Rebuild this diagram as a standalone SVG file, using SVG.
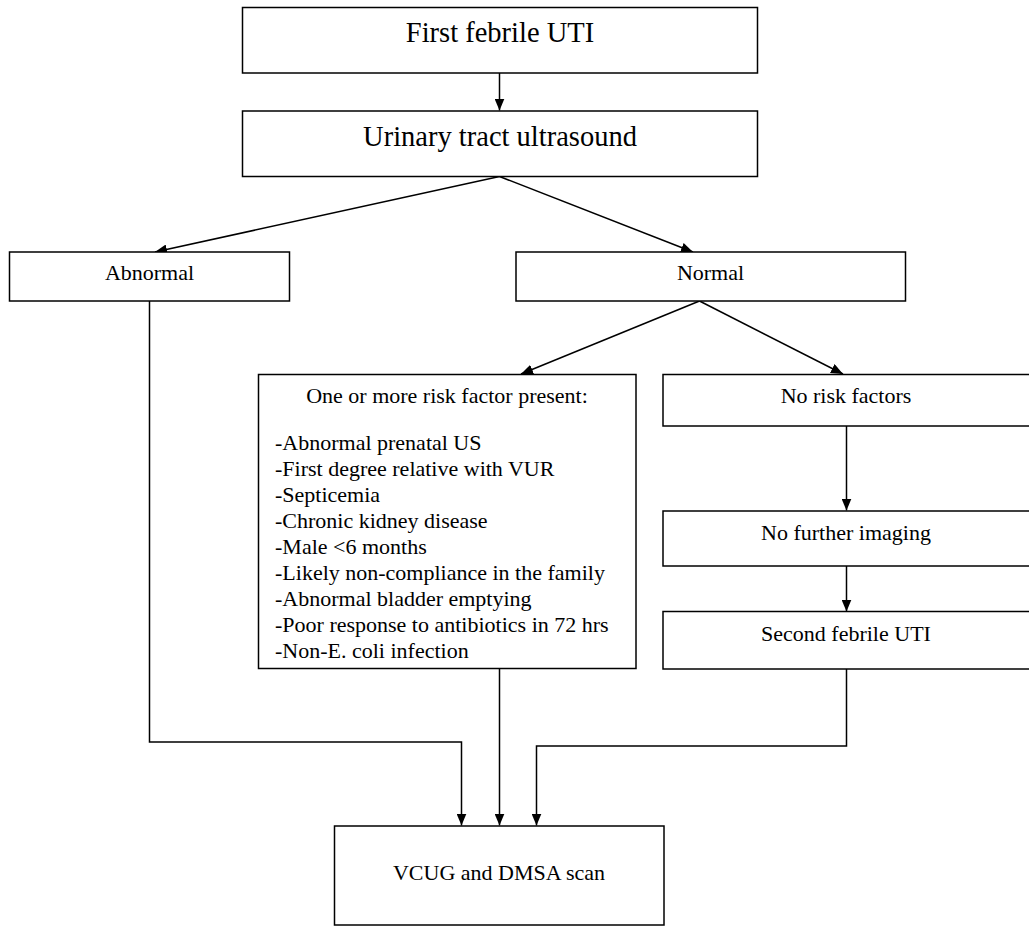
<svg xmlns="http://www.w3.org/2000/svg" width="1029" height="926" viewBox="0 0 1029 926">
<style>
.box{fill:#fff;stroke:#000;stroke-width:1.5}
.t{font-size:22px;fill:#000}
.big{font-size:28.5px}
.c{text-anchor:middle}
.ln{fill:none;stroke:#000;stroke-width:1.5}
</style>
<defs>
<marker id="ah" markerUnits="userSpaceOnUse" markerWidth="12" markerHeight="10" viewBox="0 0 12 10" refX="12" refY="5" orient="auto">
<path d="M0,0 L12,5 L0,10 Z" fill="#000"/>
</marker>
</defs>
<rect width="1029" height="926" fill="#fff"/>
<g id="connectors">
<line class="ln" x1="499.5" y1="73" x2="499.5" y2="110.5" marker-end="url(#ah)"/>
<line class="ln" x1="499.5" y1="176.5" x2="155" y2="252" marker-end="url(#ah)"/>
<line class="ln" x1="499.5" y1="176.5" x2="693" y2="252" marker-end="url(#ah)"/>
<line class="ln" x1="699.5" y1="301" x2="521" y2="374" marker-end="url(#ah)"/>
<line class="ln" x1="699.5" y1="301" x2="843" y2="374" marker-end="url(#ah)"/>
<line class="ln" x1="846.5" y1="426" x2="846.5" y2="510.5" marker-end="url(#ah)"/>
<line class="ln" x1="846.5" y1="566" x2="846.5" y2="611.5" marker-end="url(#ah)"/>
<polyline class="ln" points="149.5,301 149.5,742 461.5,742 461.5,825.5" marker-end="url(#ah)"/>
<line class="ln" x1="499.5" y1="668.5" x2="499.5" y2="825.5" marker-end="url(#ah)"/>
<polyline class="ln" points="846.5,669 846.5,746 536.5,746 536.5,825.5" marker-end="url(#ah)"/>
</g>
<g font-family="'Liberation Serif', 'DejaVu Serif', serif">
<g id="n-first">
<rect class="box" x="242.5" y="7.5" width="515" height="65.5"/>
<text class="t big c" x="500" y="42">First febrile UTI</text>
</g>
<g id="n-us">
<rect class="box" x="242.5" y="111" width="515" height="65.5"/>
<text class="t big c" x="500" y="146">Urinary tract ultrasound</text>
</g>
<g id="n-abnormal">
<rect class="box" x="9.5" y="252" width="280" height="49"/>
<text class="t c" x="149.5" y="280">Abnormal</text>
</g>
<g id="n-normal">
<rect class="box" x="516" y="252" width="389.5" height="49"/>
<text class="t c" x="710.5" y="280">Normal</text>
</g>
<g id="n-risk">
<rect class="box" x="258.5" y="374.5" width="377.5" height="294"/>
<text class="t c" x="447" y="403">One or more risk factor present:</text>
<text class="t" x="275" y="450">-Abnormal prenatal US</text>
<text class="t" x="275" y="476">-First degree relative with VUR</text>
<text class="t" x="275" y="502">-Septicemia</text>
<text class="t" x="275" y="528">-Chronic kidney disease</text>
<text class="t" x="275" y="554">-Male &lt;6 months</text>
<text class="t" x="275" y="580">-Likely non-compliance in the family</text>
<text class="t" x="275" y="606">-Abnormal bladder emptying</text>
<text class="t" x="275" y="632">-Poor response to antibiotics in 72 hrs</text>
<text class="t" x="275" y="658">-Non-E. coli infection</text>
</g>
<g id="n-norisk">
<rect class="box" x="663" y="374.5" width="370" height="51.5"/>
<text class="t c" x="846" y="403">No risk factors</text>
</g>
<g id="n-nofurther">
<rect class="box" x="663" y="511" width="370" height="55"/>
<text class="t c" x="846" y="539.5">No further imaging</text>
</g>
<g id="n-second">
<rect class="box" x="663" y="611.5" width="370" height="57.5"/>
<text class="t c" x="846" y="641">Second febrile UTI</text>
</g>
<g id="n-vcug">
<rect class="box" x="334.5" y="826" width="329.5" height="99"/>
<text class="t c" x="499" y="880">VCUG and DMSA scan</text>
</g>
</g>
</svg>
